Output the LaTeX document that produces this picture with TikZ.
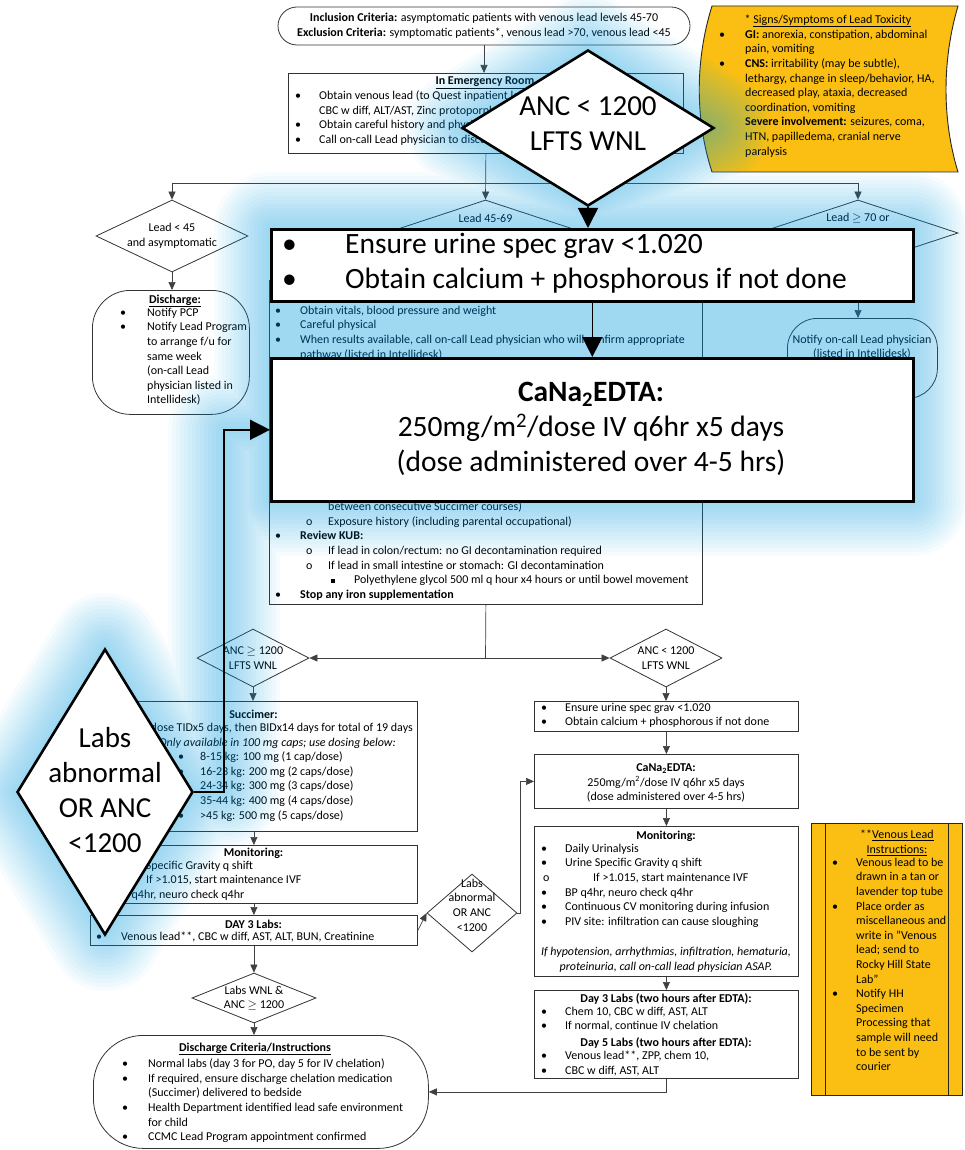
\documentclass[tikz,border=0pt]{standalone}
\usepackage{fontspec}
\setmainfont{Carlito}
\usetikzlibrary{shapes.geometric, arrows.meta, calc}
\definecolor{glowc}{RGB}{0,160,240}
\definecolor{gold}{RGB}{250,191,18}
\newcommand\bul[1]{\makebox[#1][l]{\textbullet}}
\newcommand\hsk[1]{\makebox[#1]{}}
\newcommand\cir[1]{\makebox[#1][l]{o}}
\newcommand\sqb[1]{\makebox[#1][l]{\rule[1.2pt]{3.5pt}{3.5pt}}}
\tikzset{
 box/.style={draw=black!80, line width=0.8pt, rectangle, inner sep=0},
 dia/.style={draw=black!80, line width=0.8pt, diamond, inner sep=0},
 txt/.style={inner sep=0, align=left, anchor=north west, yshift=1.2pt, font=\fontsize{12}{14.6}\selectfont},
 ctxt/.style={inner sep=0, align=center, font=\fontsize{12}{14.6}\selectfont},
 arr/.style={draw=black!75, line width=0.7pt, -{Triangle[length=8pt,width=7pt]}},
 ln/.style={draw=black!75, line width=0.7pt},
 bigbox/.style={draw=black, line width=2.6pt, fill=white, rectangle, inner sep=0},
 bigdia/.style={draw=black, line width=2.6pt, fill=white, diamond, inner sep=0},
 bigarr/.style={draw=black, line width=1.6pt, -{Triangle[length=20pt,width=20pt]}},
 bigtxt/.style={inner sep=0, align=center, font=\fontsize{29}{35}\selectfont},
}
\begin{document}
\begin{tikzpicture}[x=1pt,y=-1pt]
\useasboundingbox (0,0) rectangle (964,1150);
\fill[white] (0,0) rectangle (964,1150);

% ---------- orange note boxes ----------
\path[draw=black!85, line width=0.9pt, fill=gold] (712,6) -- (958,6) .. controls (942,60) and (942,120) .. (958,172) -- (712,172) .. controls (695,120) and (695,60) .. (712,6) -- cycle;
\node[ctxt] (sigT) at (828,21) {* \underline{Signs/Symptoms of Lead Toxicity}};
\node[txt] (sigL) at (719,31) {\bul{26pt}\textbf{GI:} anorexia, constipation, abdominal\\
\hsk{26pt}pain, vomiting\\
\bul{26pt}\textbf{CNS:} irritability (may be subtle),\\
\hsk{26pt}lethargy, change in sleep/behavior, HA,\\
\hsk{26pt}decreased play, ataxia, decreased\\
\hsk{26pt}coordination, vomiting\\
\hsk{26pt}\textbf{Severe involvement:} seizures, coma,\\
\hsk{26pt}HTN, papilledema, cranial nerve\\
\hsk{26pt}paralysis};

\path[draw=black!85, line width=0.9pt, fill=gold] (811,823) rectangle (962,1095);
\draw[black!85, line width=0.9pt] (825,823) -- (825,1095) (948,823) -- (948,1095);
\node[ctxt] (vlT) at (897,843) {**\underline{Venous Lead}\\\underline{Instructions:}};
\node[txt] (vlL) at (832,859) {\bul{24pt}Venous lead to be\\
\hsk{24pt}drawn in a tan or\\
\hsk{24pt}lavender top tube\\
\bul{24pt}Place order as\\
\hsk{24pt}miscellaneous and\\
\hsk{24pt}write in "Venous\\
\hsk{24pt}lead; send to\\
\hsk{24pt}Rocky Hill State\\
\hsk{24pt}Lab"\\
\bul{24pt}Notify HH\\
\hsk{24pt}Specimen\\
\hsk{24pt}Processing that\\
\hsk{24pt}sample will need\\
\hsk{24pt}to be sent by\\
\hsk{24pt}courier};

% ---------- top ----------
\node[box, rounded corners=19pt, minimum width=412, minimum height=38] (incl) at (484,26) {};
\node[ctxt, font=\fontsize{12}{15.5}\selectfont] (inclT) at (484,26) {\textbf{Inclusion Criteria:} asymptomatic patients with venous lead levels 45-70\\
\textbf{Exclusion Criteria:} symptomatic patients*, venous lead >70, venous lead <45};

\node[box, minimum width=395, minimum height=80, anchor=north west] (er) at (288,73) {};
\node[ctxt] (erT) at (485,83) {\underline{\textbf{In Emergency Room}}};
\node[txt] (erL) at (295,92) {\bul{24pt}Obtain venous lead (to Quest inpatient lab),\\
\hsk{24pt}CBC w diff, ALT/AST, Zinc protoporphyrin\\
\bul{24pt}Obtain careful history and physical exam\\
\bul{24pt}Call on-call Lead physician to discuss plan};
\draw[arr] (incl.south) -- (incl.south |- er.north);

% ---------- branch diamonds ----------
\node[dia, minimum width=152, minimum height=72] (dL) at (172,236) {};
\node[ctxt] (dLT) at (172,236) {Lead < 45\\and asymptomatic};
\node[dia, minimum width=200, minimum height=66] (dM) at (485.5,233) {};
\node[ctxt] (dMT) at (485.5,218) {Lead 45-69};
\node[dia, minimum width=200, minimum height=66] (dR) at (858,233) {};
\node[ctxt] (dRT) at (858,218) {Lead \ensuremath{\geq} 70 or};

\coordinate (split) at (485.5,183);
\draw[ln] (dL.north |- split) -- (dR.north |- split);
\draw[arr] (er.south) -- (dM.north);
\draw[arr] (dL.north |- split) -- (dL.north);
\draw[arr] (dR.north |- split) -- (dR.north);

\node[box, fill=white, rounded corners=38pt, minimum width=157, minimum height=124, anchor=north west] (dis1) at (92,290) {};
\node[ctxt] (dis1T) at (175,301) {\underline{\textbf{Discharge:}}};
\node[txt] (dis1L) at (120,309) {\bul{27pt}Notify PCP\\
\bul{27pt}Notify Lead Program\\
\hsk{27pt}to arrange f/u for\\
\hsk{27pt}same week\\
\hsk{27pt}(on-call Lead\\
\hsk{27pt}physician listed in\\
\hsk{27pt}Intellidesk)};
\draw[arr] (dL.south) -- (dL.south |- dis1.north);

\node[box, rounded corners=30pt, minimum width=150, minimum height=80, anchor=north west] (notif) at (787,318) {};
\node[ctxt] (notifT) at (862,347) {Notify on-call Lead physician\\(listed in Intellidesk)};
\draw[arr] (dR.south) -- (dR.south |- notif.north);

% ---------- middle box ----------
\node[box, minimum width=433, minimum height=324, anchor=north west] (mid) at (269,280) {};
\draw[arr] (dM.south) -- (dM.south |- mid.north);
\node[txt] (midL1) at (275,307) {\bul{25pt}Obtain vitals, blood pressure and weight\\
\bul{25pt}Careful physical\\
\bul{25pt}When results available, call on-call Lead physician who will confirm appropriate\\
\hsk{25pt}pathway (listed in Intellidesk)};
\node[txt] (midL2) at (275,503) {\hsk{53pt}between consecutive Succimer courses)\\
\hsk{31pt}\cir{22pt}Exposure history (including parental occupational)\\
\bul{25pt}\textbf{Review KUB:}\\
\hsk{31pt}\cir{22pt}If lead in colon/rectum: no GI decontamination required\\
\hsk{31pt}\cir{22pt}If lead in small intestine or stomach: GI decontamination\\
\hsk{56pt}\sqb{23pt}Polyethylene glycol 500 ml q hour x4 hours or until bowel movement\\
\bul{25pt}\textbf{Stop any iron supplementation}};

% ---------- ANC diamonds ----------
\node[dia, minimum width=112, minimum height=58] (dA) at (253,658) {};
\node[ctxt] (dAT) at (253,658) {ANC \ensuremath{\geq} 1200\\LFTS WNL};
\node[dia, minimum width=112, minimum height=58] (dB) at (666,658) {};
\node[ctxt] (dBT) at (666,658) {ANC < 1200\\LFTS WNL};
\coordinate (jn) at (485.5,658);
\draw[ln] (mid.south) -- (jn);
\draw[arr] (jn) -- (dA.east);
\draw[arr] (jn) -- (dB.west);

% ---------- right column ----------
\node[box, minimum width=264, minimum height=30, anchor=north west] (ens) at (534,701) {};
\draw[arr] (dB.south) -- (dB.south |- ens.north);
\node[txt] (ensL) at (541,704) {\bul{24pt}Ensure urine spec grav <1.020\\
\bul{24pt}Obtain calcium + phosphorous if not done};
\node[box, minimum width=264, minimum height=54, anchor=north west] (cana) at (534,754) {};
\draw[arr] (ens.south) -- (cana.north);
\node[ctxt] (canaT) at (666,783) {\textbf{CaNa\textsubscript{2}EDTA:}\\250mg/m\textsuperscript{2}/dose IV q6hr x5 days\\(dose administered over 4-5 hrs)};
\node[box, minimum width=264, minimum height=150, anchor=north west] (mon2) at (534,826) {};
\draw[arr] (cana.south) -- (mon2.north);
\node[ctxt] (mon2T) at (666,836) {\textbf{Monitoring:}};
\node[txt] (mon2L) at (541,845) {\bul{24pt}Daily Urinalysis\\
\bul{24pt}Urine Specific Gravity q shift\\
\hsk{2pt}\cir{50pt}If >1.015, start maintenance IVF\\
\bul{24pt}BP q4hr, neuro check q4hr\\
\bul{24pt}Continuous CV monitoring during infusion\\
\bul{24pt}PIV site: infiltration can cause sloughing};
\node[ctxt, font=\fontsize{12}{14.6}\selectfont\itshape] (mon2I) at (666,960) {If hypotension, arrhythmias, infiltration, hematuria,\\proteinuria, call on-call lead physician ASAP.};
\node[box, minimum width=264, minimum height=88, anchor=north west] (d35) at (534,990) {};
\draw[arr] (mon2.south) -- (d35.north);
\node[ctxt] (d3T) at (666,999) {\textbf{Day 3 Labs (two hours after EDTA):}};
\node[txt] (d3L) at (541,1008) {\bul{24pt}Chem 10, CBC w diff, AST, ALT\\
\bul{24pt}If normal, continue IV chelation};
\node[ctxt] (d5T) at (666,1043) {\textbf{Day 5 Labs (two hours after EDTA):}};
\node[txt] (d5L) at (541,1052) {\bul{24pt}Venous lead**, ZPP, chem 10,\\
\bul{24pt}CBC w diff, AST, ALT};

% ---------- left column ----------
\node[box, minimum width=327, minimum height=130, anchor=north west] (suc) at (90,701) {};
\draw[arr] (dA.south) -- (dA.south |- suc.north);
\node[ctxt] (sucT) at (253.5,714) {\textbf{Succimer:}};
\node[inner sep=0, anchor=north east, yshift=1.2pt, font=\fontsize{12}{14.6}\selectfont] (suc1) at (413,724) {dose TIDx5 days, then BIDx14 days for total of 19 days};
\node[inner sep=0, anchor=north east, yshift=1.2pt, font=\fontsize{12}{14.6}\selectfont\itshape] (suc2) at (396,739) {Only available in 100 mg caps; use dosing below:};
\node[txt] (sucB) at (178,753) {\bul{22pt}8-15 kg: 100 mg (1 cap/dose)\\
\bul{22pt}16-23 kg: 200 mg (2 caps/dose)\\
\bul{22pt}24-34 kg: 300 mg (3 caps/dose)\\
\bul{22pt}35-44 kg: 400 mg (4 caps/dose)\\
\bul{22pt}>45 kg: 500 mg (5 caps/dose)};
\node[box, minimum width=327, minimum height=58, anchor=north west] (mon1) at (90,845) {};
\draw[arr] (suc.south) -- (mon1.north);
\node[ctxt] (mon1T) at (253.5,853) {\textbf{Monitoring:}};
\node[txt] (mon1L) at (97,862) {\bul{19pt}Urine Specific Gravity q shift\\
\hsk{19pt}\cir{30pt}If >1.015, start maintenance IVF\\
\bul{19pt}BP q4hr, neuro check q4hr};
\node[box, minimum width=327, minimum height=30, anchor=north west] (day3) at (90,915) {};
\draw[arr] (mon1.south) -- (day3.north);
\node[ctxt] (day3T) at (253.5,924) {\textbf{DAY 3 Labs:}};
\node[txt] (day3L) at (96,933) {\bul{25pt}Venous lead**, CBC w diff, AST, ALT, BUN, Creatinine};

\node[dia, minimum width=90, minimum height=78] (dC) at (472,913) {};
\node[ctxt] (dCT) at (472,905) {Labs\\abnormal\\OR ANC\\<1200};
\draw[arr] (day3.east) -- (dC.west);
\draw[arr] (dC.east) -- ++(3,0) |- (cana.west);

\node[dia, minimum width=124, minimum height=50] (dD) at (254,998) {};
\node[ctxt] (dDT) at (254,998) {Labs WNL \&\\ANC \ensuremath{\geq} 1200};
\draw[arr] (day3.south) -- (day3.south |- dD.north);
\node[box, rounded corners=50pt, minimum width=335, minimum height=113, anchor=north west] (dis2) at (93,1035) {};
\draw[arr] (dD.south) -- (dD.south |- dis2.north);
\node[ctxt] (dis2T) at (255,1049) {\underline{\textbf{Discharge Criteria/Instructions}}};
\node[txt] (dis2L) at (122,1060) {\bul{26pt}Normal labs (day 3 for PO, day 5 for IV chelation)\\
\bul{26pt}If required, ensure discharge chelation medication\\
\hsk{26pt}(Succimer) delivered to bedside\\
\bul{26pt}Health Department identified lead safe environment\\
\hsk{26pt}for child\\
\bul{26pt}CCMC Lead Program appointment confirmed};
\draw[arr] (d35.south) |- (dis2.east);

% ---------- glow ----------
\foreach \w in {8,16,...,112}{
 \begin{scope}[transparency group, opacity=0.033]
 \path[draw=glowc, fill=glowc, line width=\w pt, line join=round, line cap=round]
   (588,50) -- (714,128) -- (588,206) -- (462,128) -- cycle
   (270,228) rectangle (912,500)
   (105,649) -- (193,792) -- (105,935) -- (17,792) -- cycle;
 \path[draw=glowc, line width=\w pt, line join=round, line cap=round]
   (588,206) -- (588,228)
   (193,792) -- (224,792) -- (224,430) -- (270,430);
 \end{scope}
}

% ---------- enlarged overlay ----------
\node[bigbox, minimum width=642, minimum height=72, anchor=north west] (bb1) at (270,228) {};
\node[bigbox, minimum width=642, minimum height=143, anchor=north west] (bb2) at (270,357) {};
\node[bigdia, minimum width=252, minimum height=156] (bd1) at (588,128) {};
\node[bigdia, minimum width=176, minimum height=286] (bd2) at (105,792) {};
\node[bigtxt] (bd1T) at (588,124) {ANC < 1200\\LFTS WNL};
\node[bigtxt] (bd2Ta) at (105,738) {Labs};
\node[bigtxt] (bd2Tb) at (105,807.5) {abnormal\\OR ANC\\<1200};
\node[inner sep=0, anchor=north west, align=left, font=\fontsize{29.5}{35}\selectfont] (bb1T) at (282,233) {\bul{63pt}Ensure urine spec grav <1.020\\
\bul{63pt}Obtain calcium + phosphorous if not done};
\node[inner sep=0, align=center, font=\fontsize{29.5}{35}\selectfont] (bb2T) at (591,429) {\textbf{CaNa\textsubscript{2}EDTA:}\\250mg/m\textsuperscript{2}/dose IV q6hr x5 days\\(dose administered over 4-5 hrs)};
\coordinate (bend) at (224,792);
\draw[bigarr] (bd1.south) -- (bd1.south |- bb1.north);
\draw[bigarr] (bb1.south) -- (bb2.north);
\draw[bigarr] (bd2.east) -- (bend) |- (bb2.west);
\end{tikzpicture}
\end{document}
